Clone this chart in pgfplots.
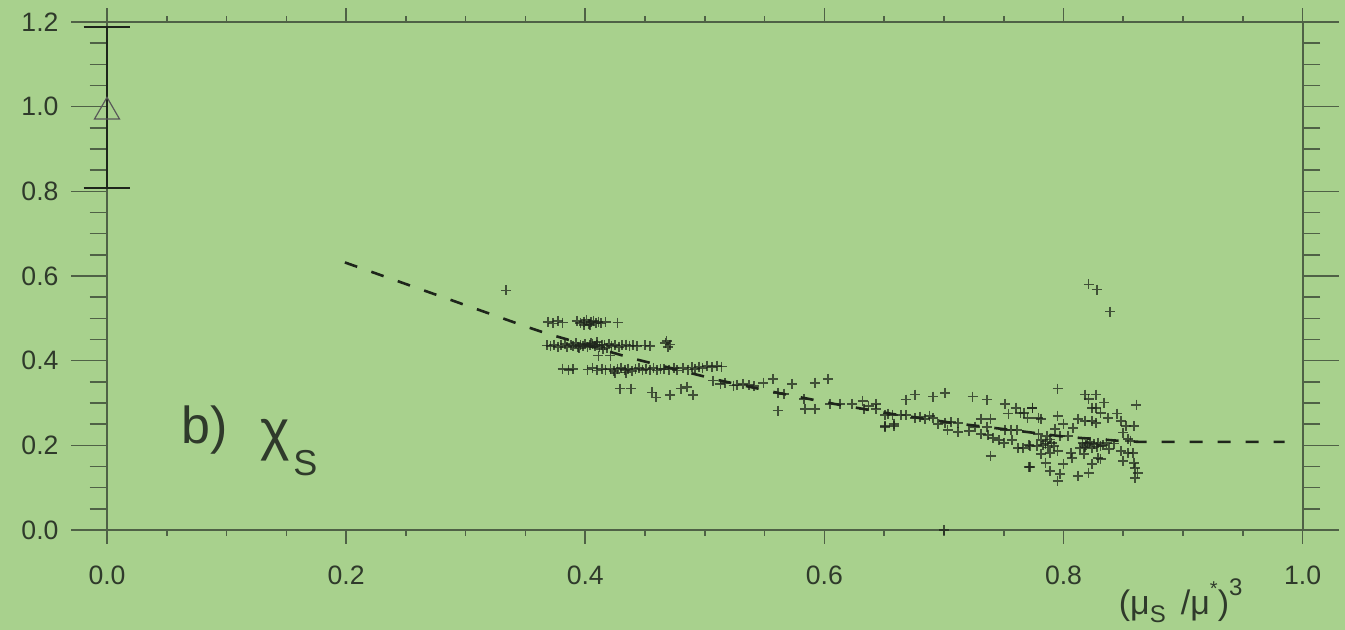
\documentclass[border=0pt]{standalone}
\usepackage{pgfplots}
\pgfplotsset{compat=1.18}
\usepackage{fontspec}
\setmainfont{Liberation Sans}
\definecolor{bg}{HTML}{A8D18D}
\definecolor{axc}{HTML}{4F6146}
\definecolor{txt}{HTML}{2F3A2B}
\definecolor{ink}{HTML}{1E251B}

\pgfplotstableread{
x y
0.334 0.566
0.369 0.492
0.373 0.488
0.377 0.494
0.381 0.490
0.393 0.494
0.396 0.489
0.399 0.492
0.401 0.496
0.403 0.487
0.405 0.491
0.407 0.494
0.409 0.489
0.411 0.492
0.413 0.488
0.404 0.484
0.399 0.485
0.417 0.491
0.427 0.490
0.368 0.436
0.371 0.434
0.374 0.438
0.377 0.433
0.380 0.436
0.383 0.440
0.385 0.432
0.388 0.437
0.390 0.435
0.392 0.441
0.394 0.433
0.396 0.437
0.398 0.435
0.400 0.439
0.402 0.432
0.404 0.436
0.406 0.440
0.408 0.434
0.410 0.437
0.412 0.433
0.414 0.438
0.416 0.436
0.418 0.431
0.420 0.439
0.422 0.435
0.425 0.437
0.428 0.433
0.431 0.436
0.434 0.438
0.437 0.435
0.440 0.436
0.443 0.434
0.450 0.436
0.454 0.435
0.467 0.442
0.469 0.432
0.471 0.438
0.468 0.446
0.405 0.442
0.395 0.429
0.415 0.428
0.410 0.444
0.411 0.412
0.421 0.412
0.381 0.381
0.386 0.378
0.390 0.380
0.402 0.379
0.406 0.383
0.410 0.377
0.414 0.381
0.417 0.379
0.421 0.381
0.424 0.376
0.427 0.380
0.430 0.383
0.433 0.378
0.436 0.381
0.439 0.376
0.442 0.380
0.445 0.383
0.448 0.378
0.451 0.381
0.454 0.379
0.457 0.382
0.460 0.377
0.463 0.380
0.466 0.381
0.470 0.379
0.474 0.383
0.477 0.377
0.482 0.382
0.486 0.379
0.489 0.384
0.492 0.380
0.495 0.386
0.498 0.383
0.502 0.388
0.506 0.385
0.510 0.388
0.514 0.386
0.434 0.372
0.425 0.371
0.429 0.334
0.438 0.334
0.456 0.325
0.459 0.313
0.471 0.319
0.480 0.334
0.485 0.338
0.490 0.319
0.513 0.345
0.517 0.347
0.527 0.343
0.532 0.345
0.537 0.342
0.541 0.340
0.549 0.348
0.557 0.357
0.561 0.324
0.566 0.322
0.573 0.345
0.592 0.348
0.603 0.357
0.561 0.282
0.584 0.286
0.592 0.286
0.583 0.310
0.605 0.298
0.613 0.298
0.623 0.298
0.632 0.305
0.633 0.286
0.643 0.298
0.643 0.286
0.637 0.293
0.653 0.275
0.651 0.244
0.658 0.251
0.524 0.341
0.507 0.353
0.668 0.308
0.676 0.320
0.691 0.315
0.701 0.324
0.724 0.315
0.736 0.308
0.751 0.298
0.754 0.275
0.760 0.289
0.764 0.277
0.770 0.265
0.774 0.289
0.651 0.272
0.657 0.272
0.664 0.272
0.651 0.246
0.658 0.246
0.668 0.272
0.676 0.265
0.680 0.268
0.684 0.262
0.688 0.270
0.691 0.265
0.695 0.251
0.701 0.253
0.706 0.255
0.712 0.253
0.703 0.237
0.712 0.232
0.721 0.234
0.731 0.263
0.739 0.263
0.726 0.244
0.736 0.244
0.731 0.227
0.737 0.225
0.741 0.218
0.746 0.212
0.750 0.206
0.751 0.237
0.756 0.237
0.761 0.237
0.757 0.213
0.762 0.194
0.739 0.175
0.771 0.201
0.771 0.149
0.779 0.265
0.778 0.199
0.821 0.580
0.828 0.568
0.839 0.516
0.795 0.334
0.861 0.296
0.818 0.320
0.827 0.320
0.821 0.310
0.824 0.289
0.827 0.289
0.818 0.258
0.824 0.258
0.827 0.253
0.820 0.206
0.825 0.204
0.831 0.199
0.824 0.194
0.829 0.170
0.774 0.289
0.767 0.277
0.781 0.263
0.795 0.270
0.800 0.251
0.793 0.239
0.808 0.241
0.812 0.263
0.779 0.227
0.786 0.222
0.797 0.222
0.804 0.222
0.785 0.204
0.792 0.199
0.789 0.182
0.795 0.187
0.781 0.180
0.772 0.199
0.766 0.194
0.806 0.182
0.807 0.170
0.785 0.159
0.789 0.140
0.772 0.149
0.800 0.156
0.797 0.133
0.795 0.116
0.812 0.128
0.821 0.135
0.834 0.301
0.831 0.277
0.837 0.265
0.845 0.275
0.848 0.258
0.852 0.246
0.859 0.246
0.850 0.230
0.854 0.215
0.856 0.211
0.842 0.204
0.838 0.192
0.848 0.187
0.854 0.182
0.858 0.182
0.850 0.163
0.859 0.159
0.860 0.147
0.862 0.135
0.860 0.123
0.814 0.194
0.817 0.180
0.831 0.168
0.824 0.156
0.816 0.205
0.819 0.200
0.822 0.208
0.826 0.202
0.829 0.206
0.833 0.201
0.836 0.205
0.818 0.196
0.828 0.197
0.781 0.213
0.785 0.209
0.789 0.214
0.783 0.200
0.790 0.205
0.787 0.195
0.700 0.000
}\scatterdata

\pgfplotstableread{
x y
0.199 0.632
0.351 0.480
0.368 0.464
0.440 0.405
0.513 0.353
0.561 0.324
0.608 0.298
0.657 0.274
0.707 0.253
0.754 0.237
0.802 0.220
0.850 0.210
0.865 0.208
0.985 0.208
}\fitline

\begin{document}
\begin{tikzpicture}
\fill[bg] (0,0) rectangle (672.5bp,315bp);
\begin{axis}[
  at={(53.5bp,50bp)}, anchor=south west,
  scale only axis, width=597.8bp, height=254bp,
  xmin=0, xmax=1, ymin=0, ymax=1.2,
  clip=false,
  axis line style={draw=axc, line width=0.9bp},
  tick align=outside,
  tick style={draw=axc, line width=0.8bp},
  xtick={0,0.2,0.4,0.6,0.8,1.0},
  xticklabels={0.0,0.2,0.4,0.6,0.8,1.0},
  ytick={0,0.2,0.4,0.6,0.8,1.0,1.2},
  yticklabels={0.0,0.2,0.4,0.6,0.8,1.0,1.2},
  minor x tick num=3, minor y tick num=3,
  xtick style={/pgfplots/major tick length=6.75bp, /pgfplots/minor tick length=2.75bp},
  ytick style={/pgfplots/major tick length=18bp, /pgfplots/minor tick length=8.75bp},
  ticklabel style={font=\fontsize{13.3bp}{14bp}\selectfont, text=txt},
  xticklabel style={yshift=-10bp},
  yticklabel style={xshift=-16.5bp},
  /pgf/number format/assume math mode=true,
]
\addplot[only marks, mark=+, mark size=2.5bp, draw=ink, opacity=0.75,
  mark options={line width=0.85bp}] table[x=x,y=y] {\scatterdata};
\addplot[ink, line width=1.3bp, dash pattern=on 6.5bp off 7.5bp] table[x=x,y=y] {\fitline};
% error bar drawn as plotted segments
\addplot[ink, line width=1.3bp] coordinates {(0,0.807) (0,1.187)};
\addplot[ink, line width=1bp] coordinates {(-0.0195,1.187) (0.0195,1.187)};
\addplot[ink, line width=1bp] coordinates {(-0.0195,0.807) (0.0195,0.807)};
\addplot[only marks, mark=triangle, mark size=7.2bp, draw=black!65, mark options={line width=0.6bp, fill=none}]
  coordinates {(0,0.988)};
\node[text=txt, font=\fontsize{26bp}{28bp}\selectfont] at (axis cs:0.082,0.236) {b)};
\node[text=txt, font=\fontsize{28bp}{30bp}\selectfont] at (axis cs:0.141,0.212) {χ};
\node[text=txt, font=\fontsize{18bp}{20bp}\selectfont] at (axis cs:0.166,0.158) {S};
\node[text=txt, font=\fontsize{17bp}{19bp}\selectfont] at (axis cs:0.898,-0.168)
  {(μ\raisebox{-0.25em}{\fontsize{12bp}{13bp}\selectfont S}\, /μ\raisebox{0.55em}{\fontsize{10bp}{11bp}\selectfont *})\raisebox{0.55em}{\fontsize{12bp}{13bp}\selectfont 3}};
\end{axis}
\pgfresetboundingbox
\path[use as bounding box] (0,0) rectangle (672.5bp,315bp);
\end{tikzpicture}
\end{document}
